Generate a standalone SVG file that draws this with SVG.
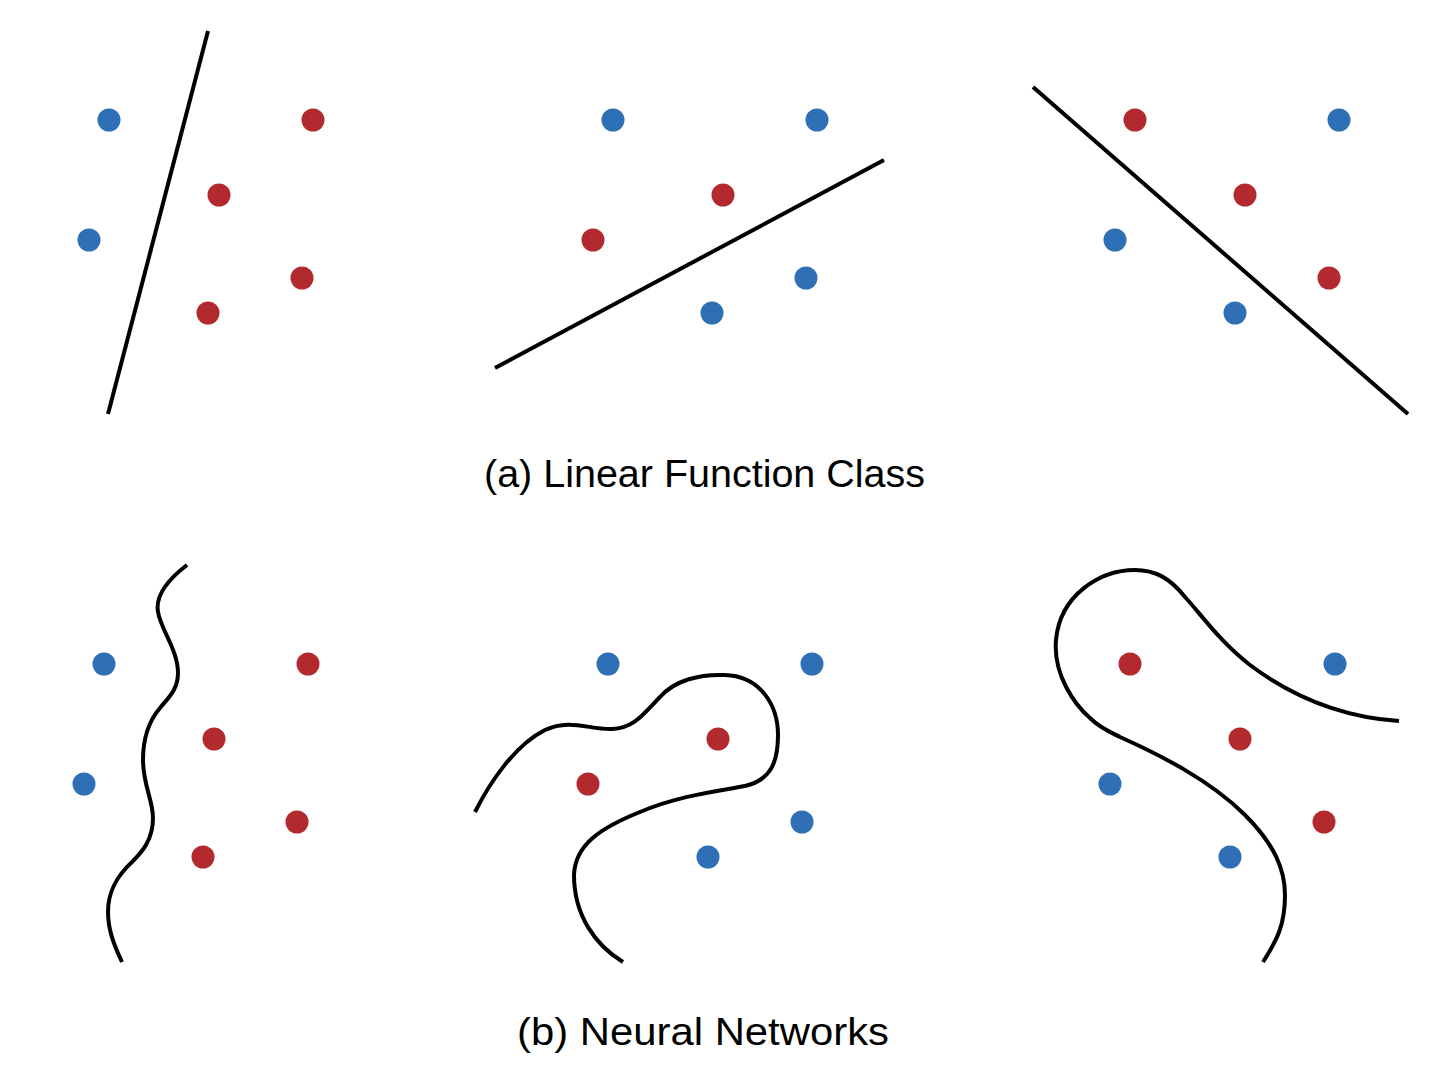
<svg xmlns="http://www.w3.org/2000/svg" width="1454" height="1086" viewBox="0 0 1454 1086">
<style>
.b{fill:#2e6fb5}.r{fill:#b2292e}
.ln{fill:none;stroke:#000;stroke-width:4;stroke-linecap:butt}
.t{font-family:"Liberation Sans",Arial,sans-serif;font-size:38px;fill:#000}
</style>
<rect width="1454" height="1086" fill="#fff"/>
<g id="top-left">
<circle class="b" cx="109" cy="120" r="11.5"/><circle class="r" cx="313" cy="120" r="11.5"/>
<circle class="r" cx="219" cy="195" r="11.5"/><circle class="b" cx="89" cy="240" r="11.5"/>
<circle class="r" cx="302" cy="278" r="11.5"/><circle class="r" cx="208" cy="313" r="11.5"/>
</g>
<g id="top-mid">
<circle class="b" cx="613" cy="120" r="11.5"/><circle class="b" cx="817" cy="120" r="11.5"/>
<circle class="r" cx="723" cy="195" r="11.5"/><circle class="r" cx="593" cy="240" r="11.5"/>
<circle class="b" cx="806" cy="278" r="11.5"/><circle class="b" cx="712" cy="313" r="11.5"/>
</g>
<g id="top-right">
<circle class="r" cx="1135" cy="120" r="11.5"/><circle class="b" cx="1339" cy="120" r="11.5"/>
<circle class="r" cx="1245" cy="195" r="11.5"/><circle class="b" cx="1115" cy="240" r="11.5"/>
<circle class="r" cx="1329" cy="278" r="11.5"/><circle class="b" cx="1235" cy="313" r="11.5"/>
</g>
<g id="bottom-left">
<circle class="b" cx="104" cy="664" r="11.5"/><circle class="r" cx="308" cy="664" r="11.5"/>
<circle class="r" cx="214" cy="739" r="11.5"/><circle class="b" cx="84" cy="784" r="11.5"/>
<circle class="r" cx="297" cy="822" r="11.5"/><circle class="r" cx="203" cy="857" r="11.5"/>
</g>
<g id="bottom-mid">
<circle class="b" cx="608" cy="664" r="11.5"/><circle class="b" cx="812" cy="664" r="11.5"/>
<circle class="r" cx="718" cy="739" r="11.5"/><circle class="r" cx="588" cy="784" r="11.5"/>
<circle class="b" cx="802" cy="822" r="11.5"/><circle class="b" cx="708" cy="857" r="11.5"/>
</g>
<g id="bottom-right">
<circle class="r" cx="1130" cy="664" r="11.5"/><circle class="b" cx="1335" cy="664" r="11.5"/>
<circle class="r" cx="1240" cy="739" r="11.5"/><circle class="b" cx="1110" cy="784" r="11.5"/>
<circle class="r" cx="1324" cy="822" r="11.5"/><circle class="b" cx="1230" cy="857" r="11.5"/>
</g>
<g id="boundaries">
<line class="ln" x1="208" y1="31" x2="108" y2="414"/>
<line class="ln" x1="495" y1="368" x2="884" y2="160"/>
<line class="ln" x1="1033" y1="87" x2="1408" y2="414"/>
<path class="ln" d="M187,565 C170,578 155,595 158,612 C161,630 178,650 178,673 C178,690 168,698 160,708 C148,722 143,740 143,760 C143,785 153,800 153,818 C153,840 142,852 132,862 C118,875 108,890 108,912 C108,930 114,945 122,962"/>
<path class="ln" d="M475,812 C490,782 515,745 545,730 C570,718 590,730 612,729 C635,728 645,712 660,697 C675,680 700,674 725,675 C760,676 778,705 778,735 C778,760 772,780 745,786 C720,791 680,795 640,812 C600,828 575,845 574,875 C574,915 595,945 623,962"/>
<path class="ln" d="M1399,721 C1340,717 1290,695 1250,665 C1220,642 1200,613 1185,597 C1170,578 1155,570 1135,570 C1100,570 1060,595 1056,640 C1053,675 1075,705 1090,718 C1100,728 1110,732 1120,737 C1160,755 1210,780 1245,815 C1275,845 1285,870 1285,895 C1285,925 1277,940 1263,962"/>
</g>
<text class="t" x="484" y="487" textLength="441" lengthAdjust="spacingAndGlyphs">(a) Linear Function Class</text>
<text class="t" x="517" y="1045" textLength="372" lengthAdjust="spacingAndGlyphs">(b) Neural Networks</text>
</svg>
